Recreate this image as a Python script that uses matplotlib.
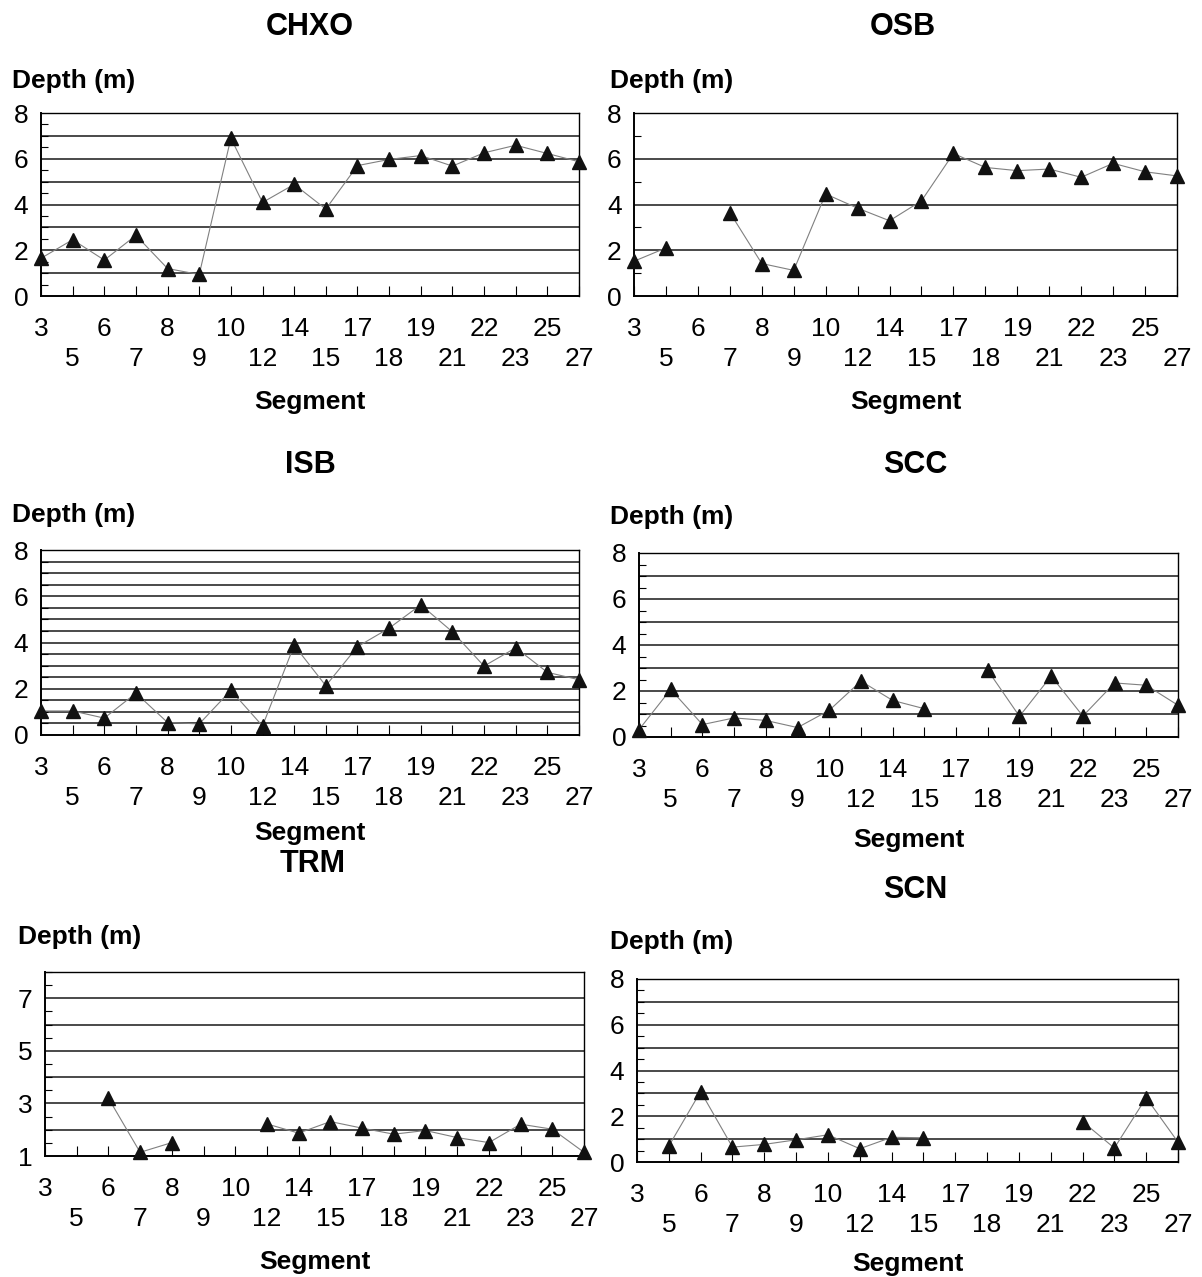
import numpy as np
import matplotlib
matplotlib.use('Agg')
import matplotlib.pyplot as plt
from matplotlib.ticker import MultipleLocator

plt.rcParams['font.family'] = ['Liberation Sans', 'DejaVu Sans']

# --- Data ---
segments = ['3', '5', '6', '7', '8', '9', '10', '12', '14', '15',
            '17', '18', '19', '21', '22', '23', '25', '27']
nan = np.nan

chxo = [1.65, 2.46, 1.57, 2.65, 1.2, 0.94, 6.9, 4.09, 4.88, 3.8,
        5.7, 5.97, 6.14, 5.68, 6.26, 6.59, 6.23, 5.87]
osb = [1.52, 2.1, nan, 3.65, 1.42, 1.12, 4.46, 3.84, 3.29, 4.16,
       6.23, 5.62, 5.48, 5.55, 5.19, 5.8, 5.43, 5.25]
isb = [1.04, 1.04, 0.73, 1.81, 0.54, 0.48, 1.93, 0.39, 3.88, 2.13,
       3.82, 4.62, 5.63, 4.46, 2.98, 3.77, 2.71, 2.39]
scc = [0.32, 2.07, 0.54, 0.83, 0.72, 0.41, 1.16, 2.43, 1.59, 1.23,
       nan, 2.9, 0.9, 2.65, 0.91, 2.35, 2.25, 1.38]
trm = [nan, nan, 3.2, 1.14, 1.51, nan, nan, 2.22, 1.87, 2.31,
       2.06, 1.83, 1.97, 1.7, 1.51, 2.21, 2.02, 1.14]
scn = [nan, 0.7, 3.08, 0.65, 0.77, 0.97, 1.19, 0.58, 1.08, 1.06,
       nan, nan, nan, nan, 1.77, 0.61, 2.81, 0.87]

W, H = 1202, 1277

# name, values, axes box in px (left, top, right, bottom), title pos, depth label pos,
# (ymin, label step, grid step, minor tick step), xlabel pad
panels = [
    ('CHXO', chxo, (41, 113, 579, 296), (310, 27), (12, 81), (0, 2, 1, 0.5), 14),
    ('OSB', osb, (634, 113, 1177, 296), (903, 27), (610, 81), (0, 2, 2, 1), 14),
    ('ISB', isb, (41, 550, 579, 735), (310, 465), (12, 515), (0, 2, 0.5, 0.5), 8),
    ('SCC', scc, (639, 553, 1178, 737), (915, 465), (610, 517), (0, 2, 1, 0.5), 12),
    ('TRM', trm, (45, 972, 584, 1156), (313, 864), (18, 937), (1, 2, 1, 0.5), 14),
    ('SCN', scn, (637, 979, 1178, 1162), (915, 890), (610, 942), (0, 2, 1, 0.5), 11),
]

fig = plt.figure(figsize=(W / 100, H / 100), dpi=100)

x = np.arange(len(segments))
xlabels = [s if i % 2 == 0 else '\n' + s for i, s in enumerate(segments)]

for name, vals, box, tpos, dpos, ycfg, xpad in panels:
    l, t, r, b = box
    ax = fig.add_axes([l / W, 1 - b / H, (r - l) / W, (b - t) / H])
    ymin, lstep, gstep, mstep = ycfg

    ax.set_xlim(0, len(segments) - 1)
    ax.set_ylim(ymin, 8)

    # gridlines drawn by hand so labels/ticks can use different steps
    for g in np.arange(ymin + gstep, 8, gstep):
        ax.axhline(g, color='#3a3a3a', lw=1.3, zorder=1)

    ax.plot(x, vals, color='#808080', lw=0.8, zorder=2)
    ax.plot(x, vals, ls='none', marker='^', ms=10.5, color='#111111', zorder=3,
            clip_on=False)

    ax.yaxis.set_major_locator(MultipleLocator(lstep))
    ax.yaxis.set_minor_locator(MultipleLocator(mstep))
    if name == 'TRM':
        ax.set_yticks([1, 3, 5, 7])
    ax.tick_params(axis='y', which='major', length=0, pad=9, labelsize=19)
    ax.tick_params(axis='y', which='minor', direction='in', length=5, width=0.8)

    ax.set_xticks(x)
    ax.set_xticklabels(xlabels, fontsize=19, linespacing=1.3)
    ax.tick_params(axis='x', direction='in', length=7, width=0.8, pad=15)

    for side in ['left', 'bottom']:
        ax.spines[side].set_linewidth(1.4)
    for side in ['top', 'right']:
        ax.spines[side].set_linewidth(1.0)

    fig.text(tpos[0] / W, 1 - tpos[1] / H, name, ha='center', va='center',
             fontsize=22, fontweight='bold')
    fig.text(dpos[0] / W, 1 - dpos[1] / H, 'Depth (m)', ha='left', va='center',
             fontsize=19, fontweight='bold')
    ax.set_xlabel('Segment', fontsize=19, fontweight='bold', labelpad=xpad)

fig.savefig('out.png', dpi=100)
